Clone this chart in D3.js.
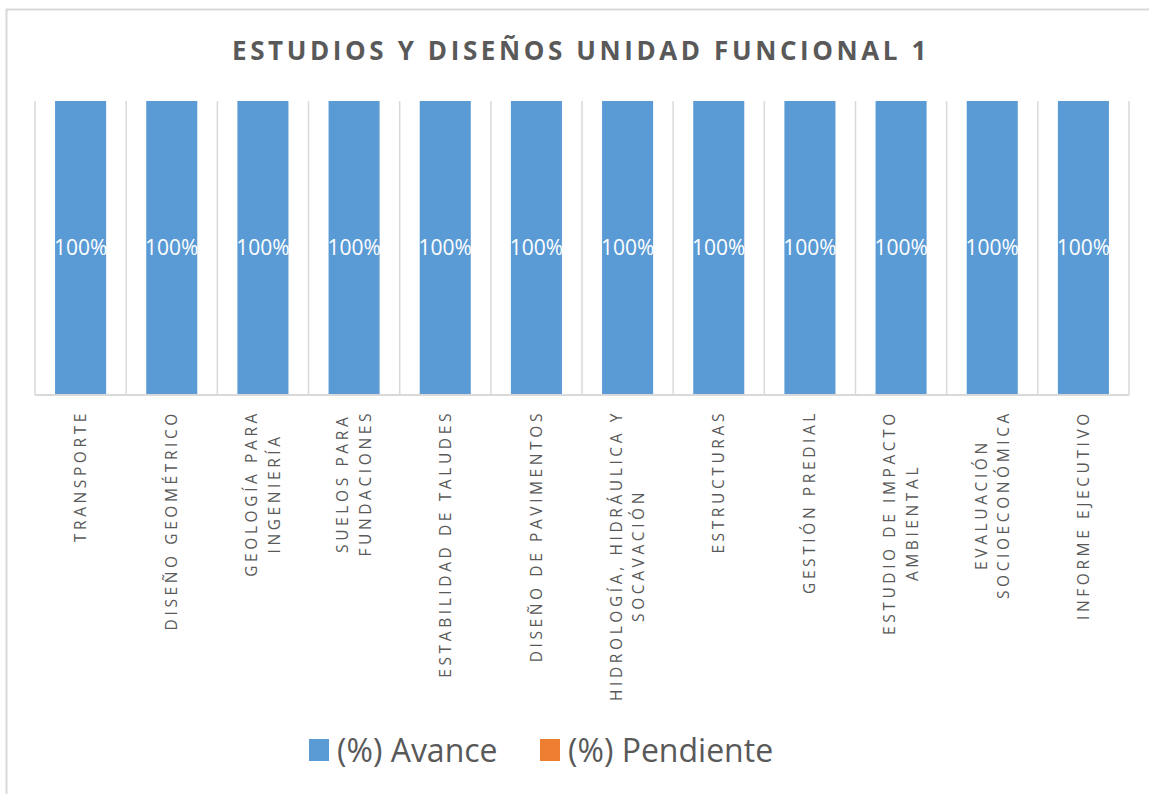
<!DOCTYPE html>
<html>
<head>
<meta charset="utf-8">
<script src="https://cdn.jsdelivr.net/npm/d3@7/dist/d3.min.js"></script>
<style>
  body { margin: 0; background: #fff; }
  text { font-family: "Open Sans", sans-serif; }
</style>
</head>
<body>
<div id="chart"></div>
<script>
// data
var categories = [
    ["TRANSPORTE"],
    ["DISEÑO GEOMÉTRICO"],
    ["GEOLOGÍA PARA", "INGENIERÍA"],
    ["SUELOS PARA", "FUNDACIONES"],
    ["ESTABILIDAD DE TALUDES"],
    ["DISEÑO DE PAVIMENTOS"],
    ["HIDROLOGÍA, HIDRÁULICA Y", "SOCAVACIÓN"],
    ["ESTRUCTURAS"],
    ["GESTIÓN PREDIAL"],
    ["ESTUDIO DE IMPACTO", "AMBIENTAL"],
    ["EVALUACIÓN", "SOCIOECONÓMICA"],
    ["INFORME EJECUTIVO"]
];
var avance    = [100, 100, 100, 100, 100, 100, 100, 100, 100, 100, 100, 100];
var pendiente = [0, 0, 0, 0, 0, 0, 0, 0, 0, 0, 0, 0];
var seriesNames = ["(%) Avance", "(%) Pendiente"];
var colors = ["#5B9BD5", "#ED7D31"];
var title = "ESTUDIOS Y DISEÑOS UNIDAD FUNCIONAL 1";

var W = 1149, H = 794;
var margin = {top: 101, left: 35, right: 20, bottom: 399};
var width = 1129 - margin.left,
    height = 395 - margin.top;

var svg = d3.select("#chart").append("svg")
    .attr("width", W)
    .attr("height", H);

// chart border (runs off the right/bottom edge like the original)
svg.append("rect")
    .attr("x", 6.5).attr("y", 9.5)
    .attr("width", W + 20).attr("height", H + 20)
    .attr("fill", "#fff")
    .attr("stroke", "#d9d9d9")
    .attr("stroke-width", 2);

svg.append("text")
    .attr("x", 581)
    .attr("y", 60)
    .attr("text-anchor", "middle")
    .attr("fill", "#595959")
    .style("font-size", "26px")
    .style("font-weight", "bold")
    .style("letter-spacing", "3.6px")
    .text(title);

var g = svg.append("g")
    .attr("transform", "translate(" + margin.left + "," + margin.top + ")");

var rows = categories.map(function(c, i) {
    return {idx: i, avance: avance[i], pendiente: pendiente[i]};
});

var x = d3.scaleBand()
    .domain(d3.range(categories.length))
    .range([0, width])
    .paddingInner(0.44)
    .paddingOuter(0.22);

var y = d3.scaleLinear()
    .domain([0, 100])
    .range([height, 0]);

// vertical grid lines at category boundaries
var step = width / categories.length;
g.append("g").selectAll("line")
    .data(d3.range(categories.length + 1))
    .enter().append("line")
        .attr("x1", function(d) { return d * step; })
        .attr("x2", function(d) { return d * step; })
        .attr("y1", 0)
        .attr("y2", height)
        .attr("stroke", "#d9d9d9")
        .attr("stroke-width", 1.5);

var stack = d3.stack().keys(["avance", "pendiente"]);
var stacked = stack(rows);

g.selectAll(".serie")
    .data(stacked)
    .enter().append("g")
        .attr("class", "serie")
        .attr("fill", function(d, i) { return colors[i]; })
    .selectAll("rect")
    .data(function(d) { return d; })
    .enter().append("rect")
        .attr("x", function(d) { return x(d.data.idx); })
        .attr("y", function(d) { return y(d[1]); })
        .attr("width", x.bandwidth())
        .attr("height", function(d) { return y(d[0]) - y(d[1]); });

// data labels on the avance series
g.selectAll(".lbl")
    .data(stacked[0])
    .enter().append("text")
        .attr("class", "lbl")
        .attr("x", function(d) { return x(d.data.idx) + x.bandwidth() / 2; })
        .attr("y", function(d) { return (y(d[0]) + y(d[1])) / 2; })
        .attr("dy", "0.35em")
        .attr("text-anchor", "middle")
        .attr("fill", "#fff")
        .style("font-size", "21px")
        .text(function(d) { return d[1] - d[0] + "%"; });

// x axis line
g.append("line")
    .attr("x1", 0).attr("x2", width)
    .attr("y1", height).attr("y2", height)
    .attr("stroke", "#d9d9d9")
    .attr("stroke-width", 2);

// category labels, rotated, lines centred on each other, block starting under the axis
var lineGap = 22.5;
var labels = g.selectAll(".cat")
    .data(categories)
    .enter().append("g")
        .attr("class", "cat");

labels.each(function(lines, i) {
    var cx = x(i) + x.bandwidth() / 2;
    var sel = d3.select(this);
    var texts = lines.map(function(t, k) {
        return sel.append("text")
            .attr("text-anchor", "middle")
            .attr("fill", "#595959")
            .style("font-size", "15.5px")
            .style("letter-spacing", "3.6px")
            .text(t);
    });
    var maxLen = d3.max(texts, function(t) { return t.node().getComputedTextLength(); });
    var cy = height + 15 + maxLen / 2;
    texts.forEach(function(t, k) {
        var off = (k - (lines.length - 1) / 2) * lineGap;
        t.attr("transform", "translate(" + (cx + off + 5.5) + "," + cy + ") rotate(-90)");
    });
});

// legend
var legendX = [309, 540];
var legend = svg.selectAll(".legend")
    .data(seriesNames)
    .enter().append("g")
        .attr("class", "legend")
        .attr("transform", function(d, i) { return "translate(" + legendX[i] + ",739)"; });
legend.append("rect")
    .attr("width", 20)
    .attr("height", 22)
    .attr("fill", function(d, i) { return colors[i]; });
legend.append("text")
    .attr("x", 28)
    .attr("y", 23)
    .attr("fill", "#595959")
    .style("font-size", "32px")
    .text(function(d) { return d; });
</script>
</body>
</html>
